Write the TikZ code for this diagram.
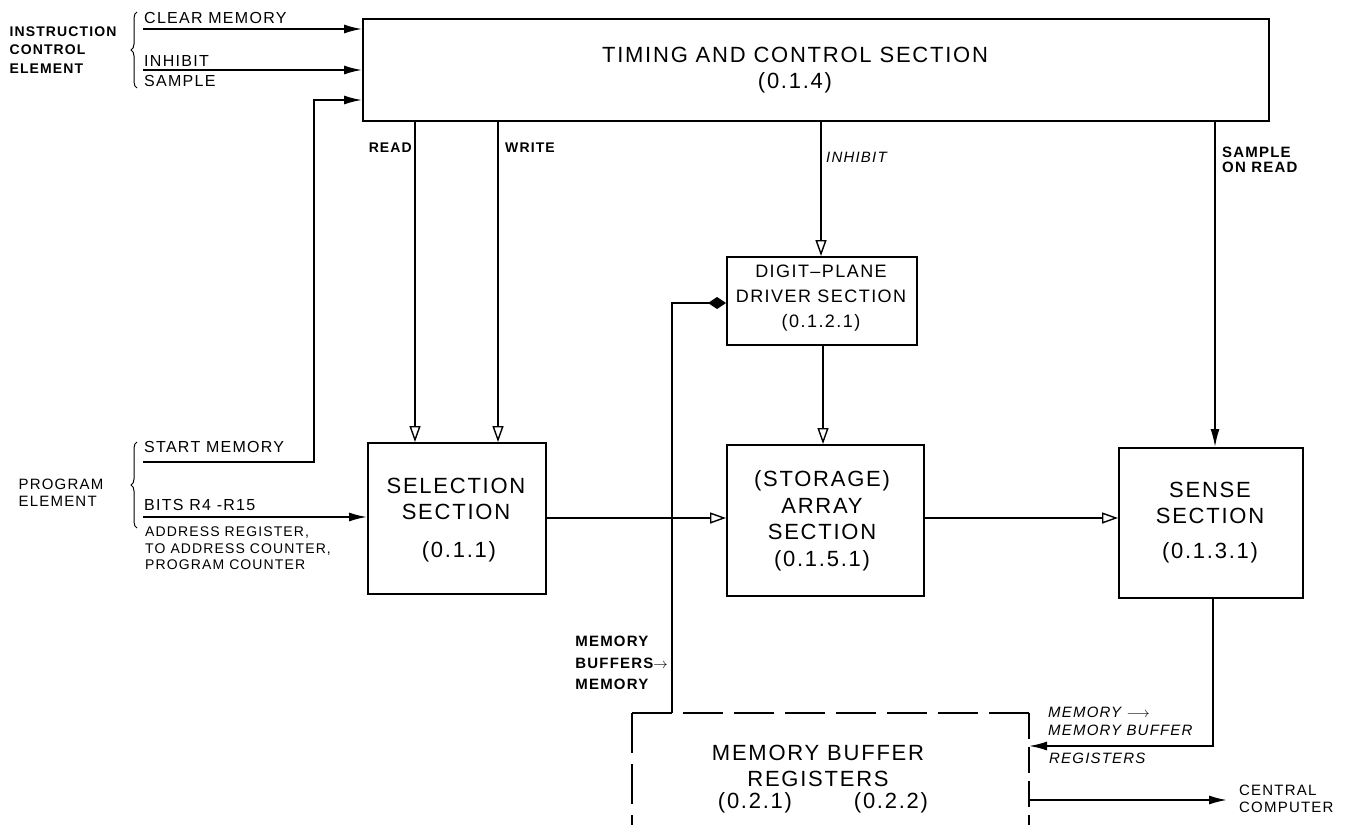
\documentclass[tikz,border=0pt]{standalone}
\usepackage{fontspec}
\setmainfont{Liberation Sans}
\newfontfamily\hand[LetterSpace=8]{Liberation Sans}
\usetikzlibrary{arrows.meta,decorations.pathreplacing}
\tikzset{
  box/.style={draw,line width=1.8pt,inner sep=0pt},
  wire/.style={line width=1.7pt},
  fa/.style={wire,-{Latex[length=18pt,width=9pt]}},
  oa/.style={wire,-{Triangle[open,length=16pt,width=11pt,line width=1.4pt]}},
  lbl/.style={font=\hand\fontsize{14}{18}\selectfont\bfseries,inner sep=0pt,align=left},
  rlbl/.style={font=\hand\fontsize{16}{18}\selectfont,inner sep=0pt,align=left},
  ilbl/.style={font=\hand\fontsize{15}{18}\selectfont\itshape,inner sep=0pt,align=left},
  big/.style={font=\hand\fontsize{22}{26}\selectfont,align=center,inner sep=0pt},
}
\begin{document}
\begin{tikzpicture}[x=1pt,y=-1pt]
\useasboundingbox (0,0) rectangle (1348,824);
% boxes
\node[box,minimum width=906pt,minimum height=102pt,anchor=north west] (tc) at (362,18) {};
\node[big] at (795,70) {TIMING AND CONTROL SECTION\\(0.1.4)};
\node[box,minimum width=190pt,minimum height=88pt,anchor=north west] (dp) at (726,256) {};
\node[big,font=\hand\fontsize{18}{25}\selectfont] at (821,298) {DIGIT\textendash PLANE\\DRIVER SECTION\\(0.1.2.1)};
\node[box,minimum width=178pt,minimum height=151pt,anchor=north west] (sel) at (367,442) {};
\node[big] at (456,499) {SELECTION\\SECTION};
\node[big] at (459,552) {(0.1.1)};
\node[box,minimum width=197pt,minimum height=151pt,anchor=north west] (arr) at (726,444) {};
\node[big,font=\hand\fontsize{22}{26.5}\selectfont] at (822,521) {(STORAGE)\\ARRAY\\SECTION\\(0.1.5.1)};
\node[box,minimum width=184pt,minimum height=150pt,anchor=north west] (sen) at (1118,447) {};
\node[big] at (1210,503) {SENSE\\SECTION};
\node[big] at (1210,553) {(0.1.3.1)};
% memory buffer dashed box (cut at bottom)
\coordinate (mbtl) at (632,713);
\coordinate (mbtr) at (1029,713);
\draw[wire,dash pattern=on 40pt off 11pt] (mbtl) -- (mbtr);
\draw[wire,dash pattern=on 40pt off 11pt] (mbtl) -- (632,830);
\draw[wire,dash pattern=on 26pt off 8pt] (mbtr) -- (1029,830);
\node[big] (mb) at (818,766) {MEMORY BUFFER\\REGISTERS};
\node[big] at (755,803) {(0.2.1)};
\node[big] at (891,803) {(0.2.2)};
% inputs from instruction control element
\node[lbl,font=\hand\fontsize{14}{18.5}\selectfont\bfseries] at (63,50) {INSTRUCTION\\CONTROL\\ELEMENT};
\draw[line width=1pt,decorate,decoration={brace,amplitude=6pt,mirror}] (137,12) -- (137,88);
\coordinate (c1) at (143,29);
\coordinate (c2) at (143,70);
\draw[fa] (c1) -- (c1 -| tc.west);
\draw[fa] (c2) -- (c2 -| tc.west);
\node[rlbl,anchor=west] at (144,18) {CLEAR MEMORY};
\node[rlbl,anchor=west] at (144,61) {INHIBIT};
\node[rlbl,anchor=west] at (144,81) {SAMPLE};
% program element
\node[rlbl,font=\hand\fontsize{15}{17}\selectfont] at (61,493) {PROGRAM\\ELEMENT};
\draw[line width=1pt,decorate,decoration={brace,amplitude=6pt,mirror}] (137,442) -- (137,528);
\coordinate (sm) at (143,462);
\coordinate (smc) at (314,462);
\draw[fa] (sm) -- (smc) |- (362,100);
\node[rlbl,anchor=west] at (144,447) {START MEMORY};
\coordinate (bits) at (143,517);
\draw[fa] (bits) -- (bits -| sel.west);
\node[rlbl,anchor=west] at (144,505) {BITS R4 -R15};
\node[rlbl,anchor=north west,font=\hand\fontsize{14}{16.5}\selectfont] at (145,527) {ADDRESS REGISTER,\\TO ADDRESS COUNTER,\\PROGRAM COUNTER};
% read / write
\draw[oa] (415,120) -- (415,442);
\draw[oa] (498,120) -- (498,442);
\node[lbl,anchor=east] at (412,148) {READ};
\node[lbl,anchor=west] at (505,148) {WRITE};
% inhibit
\draw[oa] (821,120) -- (821,256);
\node[ilbl,anchor=west] at (826,157) {INHIBIT};
% sample on read
\draw[fa] (1215,120) -- (1215,447);
\node[lbl,anchor=west,font=\hand\fontsize{15}{15.5}\selectfont\bfseries] at (1222,160) {SAMPLE\\ON READ};
% digit plane -> array
\draw[oa] (823,344) -- (823,444);
% selection -> array -> sense
\draw[oa] (545,518) -- (726,518);
\draw[oa] (923,518) -- (1118,518);
% memory buffers -> digit-plane (diamond)
\draw[wire,-{Diamond[length=18pt,width=12pt]}] (672,713) -- (672,303) -- (726,303);
\node[lbl,anchor=east,font=\hand\fontsize{15}{21.5}\selectfont\bfseries] at (668,663) {MEMORY\\BUFFERS\(\rightarrow\)\\MEMORY};
% sense -> memory buffer
\draw[fa] (1213,597) |- (1029,746);
\node[ilbl,anchor=west] at (1048,712) {MEMORY \(\longrightarrow\)};
\node[ilbl,anchor=west] at (1048,730) {MEMORY BUFFER};
\node[ilbl,anchor=west] at (1049,758) {REGISTERS};
% central computer
\draw[fa] (1029,800) -- (1227,800);
\node[rlbl,anchor=west,font=\hand\fontsize{15}{17}\selectfont] at (1239,799) {CENTRAL\\COMPUTER};
\end{tikzpicture}
\end{document}
